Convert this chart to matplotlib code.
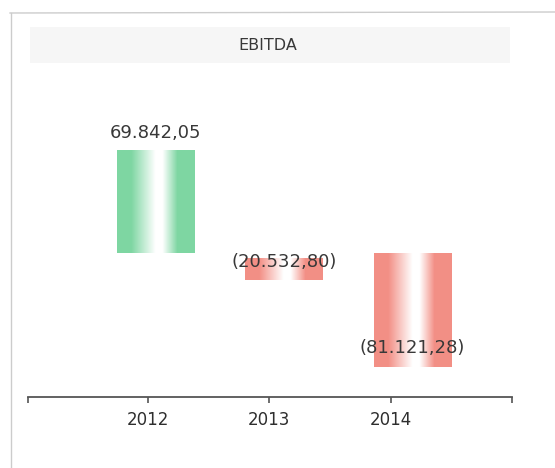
import matplotlib
matplotlib.use('Agg')
import matplotlib.pyplot as plt
import numpy as np
from matplotlib.colors import LinearSegmentedColormap
from matplotlib.patches import Rectangle
from matplotlib.lines import Line2D

# data
years = ['2012', '2013', '2014']
values = [69842.05, -20532.80, -81121.28]
labels = ['69.842,05', '(20.532,80)', '(81.121,28)']
# floating bar ends
bar_start = [0, -3400, 0]
bar_end = [69842, -18300, -77300]

green = '#78d49e'
red = '#f28a80'

fig = plt.figure(figsize=(5.55, 4.68), dpi=100)
fig.patch.set_facecolor('white')

# outer frame and title band
fig.add_artist(Line2D([11 / 555, 11 / 555], [0, 1 - 13 / 468], color='#cccccc', lw=1.0))
fig.add_artist(Line2D([10 / 555, 1], [1 - 13 / 468, 1 - 12 / 468], color='#cccccc', lw=1.0))
fig.add_artist(Rectangle((30 / 555, 1 - 63 / 468), 480 / 555, 36 / 468,
                         facecolor='#f6f6f6', edgecolor='none'))
fig.text(268 / 555, 1 - 46 / 468, 'EBITDA', ha='center', va='center',
         fontsize=11.5, color='#383838')

ax = fig.add_axes([28 / 555, 1 - 397 / 468, 484 / 555, 327 / 468])

x = np.arange(len(years))
offsets = [0.06, 0.12, 0.18]
# horizontal shading: colour at the edges, white a little right of centre
grad = np.concatenate([np.full(18, 0.95), np.linspace(0.95, 0, 32), np.zeros(8),
                       np.linspace(0, 0.95, 20), np.full(22, 0.95)])[None, :]

for i in range(len(years)):
    col = green if values[i] >= 0 else red
    cmap = LinearSegmentedColormap.from_list('g', ['white', col])
    bottom = min(bar_start[i], bar_end[i])
    height = abs(bar_end[i] - bar_start[i])
    bars = ax.bar(x[i] + offsets[i], height, bottom=bottom, width=0.635,
                  color='none', edgecolor='none')
    p = bars[0]
    x0, w = p.get_x(), p.get_width()
    im = ax.imshow(grad, cmap=cmap, vmin=0, vmax=1, aspect='auto',
                   extent=(x0, x0 + w, bottom, bottom + height), zorder=2)
    im.set_clip_path(p)

ax.set_xlim(-0.99, 3.0)
ax.set_ylim(-97600, 124100)

# data labels
ax.text(x[0] + offsets[0], bar_end[0] + 5500, labels[0], ha='center', va='bottom',
        fontsize=13, color='#383838', zorder=3)
ax.text(x[1] + offsets[1], bar_start[1] - 3000, labels[1], ha='center', va='center',
        fontsize=13, color='#383838', zorder=3)
ax.text(x[2] + offsets[2], bar_end[2] + 13000, labels[2], ha='center', va='center',
        fontsize=13, color='#383838', zorder=3)

for s in ['top', 'right', 'left']:
    ax.spines[s].set_visible(False)
ax.spines['bottom'].set_color('#555555')
ax.spines['bottom'].set_linewidth(1.3)
ax.set_yticks([])
ax.set_xticks(list(x) + [-0.99, 3.0])
ax.set_xticklabels(years + ['', ''], fontsize=12, color='#2e2e2e')
ax.tick_params(axis='x', length=4, width=1.2, color='#555555', pad=6)
ax.patch.set_alpha(0)

fig.savefig('out.png', dpi=100, facecolor='white')
